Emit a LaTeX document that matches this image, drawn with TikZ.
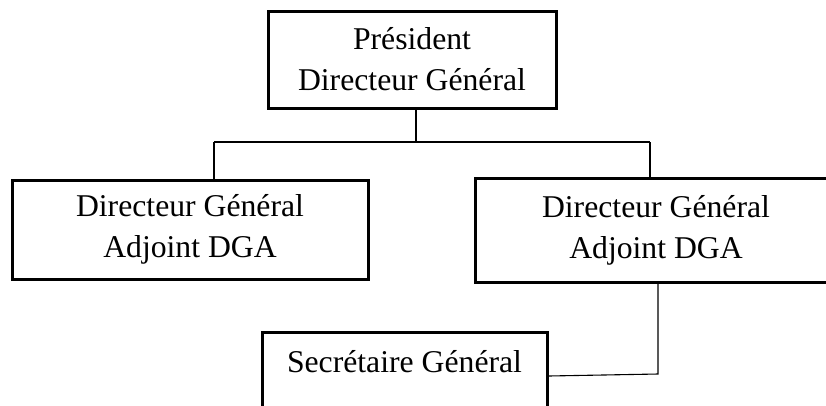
\documentclass[tikz,border=0pt]{standalone}
\usepackage{fontspec}
\setmainfont{Liberation Serif}
\begin{document}
\begin{tikzpicture}[x=1pt,y=-1pt,
  box/.style={draw=black, line width=3pt, inner sep=0pt, align=center,
    font=\fontsize{31.7}{41}\selectfont},
  conn/.style={draw=black, line width=1.1pt}]
\useasboundingbox (0,0) rectangle (826,405);
\clip (0,0) rectangle (826,405);
\node[box, minimum width=288pt, minimum height=97pt] (pdg) at (412,59.5) {Président\\Directeur Général};
\node[box, minimum width=356pt, minimum height=99pt] (dgaL) at (190,229.5) {Directeur Général\\Adjoint DGA};
\node[box, minimum width=362pt, minimum height=104pt] (dgaR) at (656,230) {Directeur Général\\Adjoint DGA};
\node[box, minimum width=285pt, text height=40pt, text depth=60pt, anchor=base] (sg) at (404.5,372) {Secrétaire Général};
\coordinate (jt) at (416,142);
\coordinate (jl) at (214,142);
\coordinate (jr) at (650,142);
\coordinate (sr) at (658,374);
\coordinate (sl) at (547,376);
\draw[conn] (pdg.south -| jt) -- (jt);
\draw[conn] (jl) -- (jr);
\draw[conn] (jl) -- (jl |- dgaL.north);
\draw[conn] (jr) -- (jr |- dgaR.north);
\draw[conn] (dgaR.south -| sr) -- (sr) -- (sg.east |- sl);
\end{tikzpicture}
\end{document}
